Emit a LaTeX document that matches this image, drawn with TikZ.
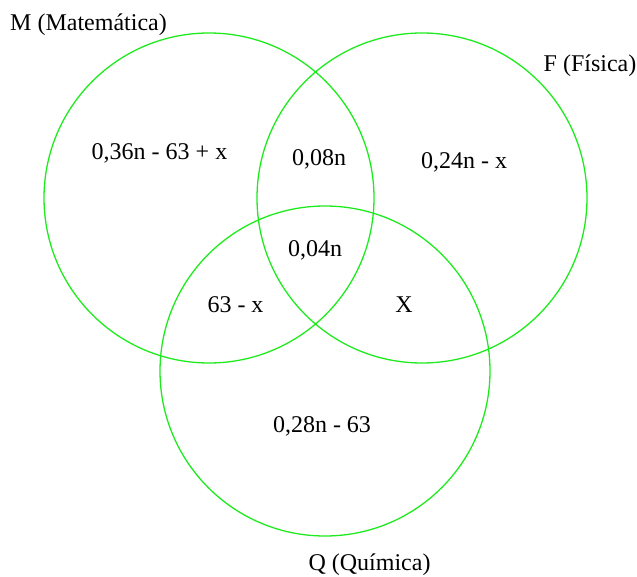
\documentclass[tikz,border=0pt]{standalone}
\usepackage{fontspec}
\setmainfont{Liberation Serif}
\definecolor{venngreen}{RGB}{30,235,30}
\tikzset{
  venn/.style={draw=venngreen, line width=1.3pt},
  lbl/.style={anchor=base, inner sep=0pt, font=\fontsize{24}{27}\selectfont}
}
\begin{document}
\begin{tikzpicture}[x=1pt,y=-1pt]
\useasboundingbox (0,0) rectangle (637,577);
\coordinate (cM) at (209,198);
\coordinate (cF) at (422,198);
\coordinate (cQ) at (325,371);
\draw[venn] (cM) circle[radius=165];
\draw[venn] (cF) circle[radius=165];
\draw[venn] (cQ) circle[radius=165];
\node[lbl] (tM) at (88.5,30.5) {M (Matemática)};
\node[lbl] (tF) at (590,71.5) {F (Física)};
\node[lbl] (tQ) at (369.5,570) {Q (Química)};
\node[lbl] (a1) at (159.5,160) {0,36n - 63 + x};
\node[lbl] (a2) at (319,165.5) {0,08n};
\node[lbl] (a3) at (464,168.3) {0,24n - x};
\node[lbl] (a4) at (315,256.7) {0,04n};
\node[lbl] (a5) at (235.5,312.7) {63 - x};
\node[lbl] (a6) at (404,312.7) {X};
\node[lbl] (a7) at (322,432.7) {0,28n - 63};
\end{tikzpicture}
\end{document}
